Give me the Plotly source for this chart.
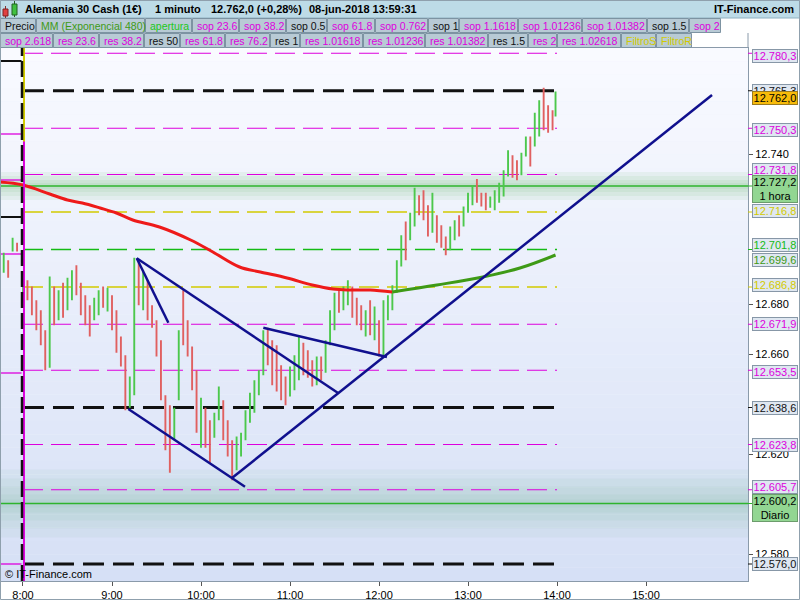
import plotly.graph_objects as go
import pandas as pd

DAY = "2018-06-08 "

# ---------------- data ----------------
pre_time = ["07:47", "07:50", "07:53", "07:56"]
pre_open = [12693, 12697, 12702, 12704]
pre_high = [12700.5, 12697.5, 12706.5, 12704.5]
pre_low = [12692.5, 12690.5, 12701, 12701]
pre_close = [12699, 12691, 12706, 12702]

# session bars, 3-minute sampling from 08:00, last bar 13:59
bar_open = [12684.5, 12688, 12685, 12680, 12676, 12668, 12656, 12685, 12675, 12687,
            12679, 12683, 12694, 12687, 12682, 12678, 12675, 12677, 12686, 12678,
            12682, 12676, 12665, 12658, 12640, 12645, 12696, 12679, 12688, 12678,
            12672, 12664, 12642, 12638, 12627, 12643, 12684, 12672, 12661, 12652,
            12624, 12637, 12632, 12628, 12635, 12640, 12632, 12624, 12615, 12620,
            12627, 12634, 12638, 12645, 12653, 12669, 12664, 12662, 12654, 12650,
            12644, 12647, 12651, 12663, 12660, 12656, 12649, 12658, 12654, 12665,
            12671, 12684, 12679, 12681, 12686, 12681, 12678, 12668, 12680, 12667,
            12672, 12661, 12675, 12679, 12686, 12696, 12711, 12707, 12712, 12722,
            12724, 12718, 12710, 12714, 12710, 12706, 12703, 12707, 12714, 12712,
            12717, 12720, 12729, 12723, 12723, 12719, 12719, 12722, 12724, 12732,
            12738, 12736, 12733, 12740, 12746, 12744, 12748, 12765, 12758, 12756,
            12756]
bar_high = [12691.5, 12689.5, 12687, 12681.5, 12677.5, 12669.5, 12691, 12687, 12685.5, 12688.5,
            12690.5, 12693.5, 12695.5, 12688.5, 12683.5, 12679.5, 12682.5, 12685.5, 12687, 12686.5,
            12683.5, 12677.5, 12667, 12659.5, 12651, 12698.5, 12697.5, 12693.5, 12689.5, 12679.5,
            12673.5, 12665.5, 12643.5, 12639.5, 12638.5, 12669.5, 12685.5, 12673.5, 12663, 12653.5,
            12642.5, 12638.5, 12633.5, 12636.5, 12647, 12641.5, 12633.5, 12625.5, 12627, 12628.5,
            12637.5, 12644.5, 12649.5, 12653.5, 12669.5, 12670.5, 12665.5, 12663.5, 12655.5, 12651,
            12655, 12659.5, 12667, 12664.5, 12661.5, 12657.5, 12659, 12659, 12665.5, 12677.5,
            12684.5, 12685.5, 12687, 12689.5, 12687, 12682.5, 12679.5, 12677.5, 12681.5, 12679,
            12673.5, 12681.5, 12683.5, 12687.5, 12697.5, 12707.5, 12713, 12716.5, 12726.5, 12723.5,
            12725.5, 12719.5, 12724.5, 12715.5, 12711.5, 12707, 12711, 12713.5, 12715.5, 12719,
            12724.5, 12727.5, 12730, 12724.5, 12724.5, 12723, 12725.5, 12728.5, 12733.5, 12741.5,
            12739.5, 12737.5, 12740.5, 12747, 12747, 12756.5, 12761.5, 12766.5, 12759.5, 12757.5,
            12765]
bar_low = [12683.5, 12681.5, 12675.5, 12669.5, 12663.5, 12653.5, 12654.5, 12671.5, 12673.5, 12674.5,
           12677.5, 12681.5, 12683.5, 12675.5, 12671.5, 12667, 12673.5, 12675.5, 12678.5, 12677,
           12669.5, 12660.5, 12655, 12637.5, 12638.5, 12643.5, 12679.5, 12677.5, 12673.5, 12670.5,
           12659, 12641.5, 12621.5, 12612.5, 12625.5, 12641.5, 12663.5, 12659, 12645.5, 12628.5,
           12622.5, 12622.5, 12616.5, 12626.5, 12633.5, 12625.5, 12619, 12609.5, 12613.5, 12619,
           12625.5, 12632.5, 12636.5, 12643.5, 12651.5, 12655.5, 12647.5, 12645, 12641.5, 12639.5,
           12643, 12645.5, 12649.5, 12651.5, 12650.5, 12647, 12647.5, 12649.5, 12652.5, 12663.5,
           12669.5, 12676.5, 12677.5, 12679.5, 12674.5, 12671.5, 12669.5, 12667, 12667.5, 12665.5,
           12659, 12659, 12673.5, 12677.5, 12684.5, 12695, 12697.5, 12705.5, 12711, 12715.5,
           12713.5, 12707, 12708.5, 12704.5, 12702.5, 12699.5, 12701.5, 12705.5, 12707, 12711,
           12716.5, 12719.5, 12720.5, 12719, 12717.5, 12718.5, 12717.5, 12720.5, 12723, 12731,
           12730.5, 12729.5, 12731.5, 12739, 12735, 12743, 12747, 12749.5, 12748.5, 12749.5,
           12755]
bar_close = [12690, 12683, 12677, 12671, 12665, 12655, 12688, 12673, 12684, 12676,
             12689, 12692, 12685, 12677, 12673, 12668, 12681, 12684, 12680, 12685,
             12671, 12662, 12656, 12639, 12649, 12696, 12681, 12692, 12675, 12672,
             12660, 12643, 12623, 12614, 12637, 12668, 12665, 12660, 12647, 12630,
             12641, 12624, 12618, 12635, 12645, 12627, 12620, 12611, 12625, 12627,
             12636, 12643, 12648, 12652, 12668, 12657, 12649, 12646, 12643, 12641,
             12654, 12658, 12665, 12653, 12652, 12648, 12657, 12651, 12664, 12676,
             12683, 12678, 12686, 12688, 12676, 12673, 12671, 12676, 12669, 12677,
             12660, 12680, 12682, 12686, 12696, 12706, 12699, 12715, 12725, 12717,
             12715, 12708, 12723, 12706, 12704, 12701, 12710, 12712, 12708, 12718,
             12723, 12726, 12722, 12720, 12719, 12722, 12724, 12727, 12732, 12740,
             12732, 12731, 12739, 12746, 12736, 12755, 12760, 12751, 12750, 12751,
             12762]
bar_time = [t.strftime("%H:%M") for t in pd.date_range(DAY + "08:00", DAY + "13:57", freq="3min")] + ["13:59"]

# EMA 480 (exponential moving average)
ema_time = ["07:44:30", "08:00", "08:18", "08:30", "08:40", "08:52", "09:03", "09:14", "09:32",
            "09:53", "10:08", "10:26", "10:40", "10:58", "11:15", "11:29", "11:40", "11:54",
            "12:09", "12:39", "13:10", "13:35", "13:59"]
ema_value = [12728.8, 12727.6, 12724.0, 12721.6, 12720.4, 12718.4, 12716.4, 12713.6, 12710.8,
             12705.6, 12700.8, 12694.8, 12692.8, 12690.4, 12687.6, 12686.0, 12685.6, 12685.6,
             12684.8, 12687.6, 12690.8, 12694.4, 12699.6]
ema_cross = "12:09"

# hand-drawn trendlines
trend_t0 = ["09:16:40", "09:16:40", "09:11:00", "10:20:40", "10:42:00"]
trend_p0 = [12698.3, 12698.3, 12638.0, 12610.3, 12670.5]
trend_t1 = ["09:38:00", "11:32:40", "10:29:40", "15:44:30", "12:05:20"]
trend_p1 = [12672.5, 12644.3, 12606.9, 12763.6, 12658.8]

# support / resistance levels
level_price = [12780.3, 12765.3, 12750.3, 12731.8, 12716.8, 12701.8, 12686.8,
               12671.9, 12653.5, 12638.6, 12623.8, 12605.7, 12576.0]
level_kind = ["mag", "blk", "mag", "mag", "yel", "grn", "yel",
              "mag", "mag", "blk", "mag", "mag", "blk"]
level_text = ["12.780,3", "12.765,3", "12.750,3", "12.731,8", "12.716,8", "12.701,8", "12.686,8",
              "12.671,9", "12.653,5", "12.638,6", "12.623,8", "12.605,7", "12.576,0"]
level_shift = [-3, 0, -2, 5, 1.5, 4.5, 2, 0, -2, 0, 0, 2.5, 0]

pivot_price = [12727.2, 12600.2]
pivot_text = ["12.727,2<br>1 hora", "12.600,2<br>Diario"]
pivot_shift = [-3, -4]

last_price = 12762.0
last_text = "12.762,0"
ema_last_text = "12.699,6"

prev_price = [12777.2, 12714.8, 12748.0, 12729.6, 12700.0, 12652.4, 12576.0]
prev_kind = ["blk", "blk", "mag", "mag", "mag", "mag", "mag"]

y_ticks = [12580, 12620, 12660, 12680, 12740]
x_ticks = ["08:00", "09:00", "10:00", "11:00", "12:00", "13:00", "14:00", "15:00"]
x_ticktext = ["8:00", "9:00", "10:00", "11:00", "12:00", "13:00", "14:00", "15:00"]

title_parts = ["Alemania 30 Cash (1€)", "1 minuto", "12.762,0 (+0,28%)", "08-jun-2018 13:59:31"]
brand = "IT-Finance.com"

MAG = "#dd00dd"
YEL = "#d2ca00"
GRN = "#14bb14"
BLK = "#111111"
EMA_RED = "#ee1a1a"
EMA_GRN = "#3e9a16"
UP = "#4cc84c"
DOWN = "#e06060"
NAVY = "#10108e"
kind_color = {"mag": MAG, "blk": BLK, "yel": YEL, "grn": GRN}

legend_row1 = [("Precio", BLK, 36), ("MM (Exponencial 480)", EMA_GRN, 109), ("apertura", "#20c820", 47),
               ("sop 23.6", MAG, 47), ("sop 38.2", MAG, 47), ("sop 0.5", BLK, 41), ("sop 61.8", MAG, 48),
               ("sop 0.762", MAG, 53), ("sop 1", BLK, 31), ("sop 1.1618", MAG, 59), ("sop 1.01236", MAG, 64),
               ("sop 1.01382", MAG, 65), ("sop 1.5", BLK, 42), ("sop 2", MAG, 32)]
legend_row2 = [("sop 2.618", MAG, 53), ("res 23.6", MAG, 46), ("res 38.2", MAG, 45), ("res 50", BLK, 36),
               ("res 61.8", MAG, 45), ("res 76.2", MAG, 45), ("res 1", BLK, 30), ("res 1.01618", MAG, 63),
               ("res 1.01236", MAG, 62), ("res 1.01382", MAG, 63), ("res 1.5", BLK, 40), ("res 2", MAG, 29),
               ("res 1.02618", MAG, 64), ("FiltroS", YEL, 35), ("FiltroR", YEL, 36)]

FONT = "Liberation Sans, Arial, sans-serif"

# ---------------- geometry helpers (pixels -> paper) ----------------
W, H = 800, 600
ML, MR, MT, MB = 0, 52, 48, 19
PW, PH = W - ML - MR, H - MT - MB
Y_RANGE = [12569.2, 12782.4]
X_RANGE = [DAY + "07:44:30", DAY + "16:08:45"]
PPX = (Y_RANGE[1] - Y_RANGE[0]) / PH  # price per pixel


def px(x):
    return (x - ML) / PW


def py(y):
    return (H - MB - y) / PH


def T(s):
    return DAY + s


fig = go.Figure()
shapes = []
annots = []

# plot background gradient
TOP_C, BOT_C = (249, 250, 255), (214, 224, 246)
N = 40
for i in range(N):
    f = i / (N - 1)
    c = tuple(round(a + (b - a) * f) for a, b in zip(TOP_C, BOT_C))
    ya = MT + PH * i / N
    yb = MT + PH * (i + 1) / N
    shapes.append(dict(type="rect", xref="paper", yref="paper", x0=0, x1=1, y0=py(yb), y1=py(ya),
                       fillcolor="rgb(%d,%d,%d)" % c, line=dict(width=0), layer="below"))

# glow bands around pivot lines
for p, widths, col in [(pivot_price[0], [14, 10, 6, 3], "rgba(70,175,70,0.075)"),
                       (pivot_price[1], [34, 25, 17, 9, 4], "rgba(70,170,110,0.055)")]:
    for w in widths:
        shapes.append(dict(type="rect", xref="paper", yref="y", x0=0, x1=1, y0=p - w * PPX, y1=p + w * PPX,
                           fillcolor=col, line=dict(width=0), layer="below"))

# dashed level lines
for p, k in zip(level_price, level_kind):
    if k == "blk":
        ln = dict(color=BLK, width=3.2, dash="21px,9px")
    elif k == "mag":
        ln = dict(color=MAG, width=1.2, dash="20px,8px")
    elif k == "yel":
        ln = dict(color=YEL, width=1.4, dash="20px,8px")
    else:
        ln = dict(color=GRN, width=1.4, dash="20px,8px")
    shapes.append(dict(type="line", xref="x", yref="y", x0=T("08:00"), x1=T("14:00"), y0=p, y1=p,
                       line=ln, layer="below"))

# pivot solid lines
for p in pivot_price:
    shapes.append(dict(type="line", xref="paper", yref="y", x0=0, x1=1, y0=p, y1=p,
                       line=dict(color="#2eb42e", width=1.3), layer="below"))

# previous session short levels
for p, k in zip(prev_price, prev_kind):
    shapes.append(dict(type="line", xref="x", yref="y", x0=X_RANGE[0], x1=T("07:59"), y0=p, y1=p,
                       line=dict(color=kind_color[k], width=2 if k == "blk" else 1.3), layer="below"))

# session start vertical lines
shapes.append(dict(type="line", xref="x", yref="paper", x0=T("08:00:40"), x1=T("08:00:40"), y0=0, y1=1,
                   line=dict(color=MAG, width=2)))
shapes.append(dict(type="line", xref="x", yref="y", x0=T("08:00:40"), x1=T("08:00:40"), y0=12745, y1=Y_RANGE[1],
                   line=dict(color=YEL, width=2)))
shapes.append(dict(type="line", xref="x", yref="paper", x0=T("07:59:20"), x1=T("07:59:20"), y0=0, y1=1,
                   line=dict(color=BLK, width=2.5, dash="16px,5px")))

# level ticks at axis
for p, k in zip(level_price, level_kind):
    shapes.append(dict(type="line", xref="paper", yref="y", x0=1, x1=px(752), y0=p, y1=p,
                       line=dict(color=kind_color[k], width=1)))
for p in pivot_price:
    shapes.append(dict(type="line", xref="paper", yref="y", x0=1, x1=px(752), y0=p, y1=p,
                       line=dict(color="#2eb42e", width=1)))

# ---------------- traces ----------------
fig.add_trace(go.Ohlc(
    x=[T(t) for t in pre_time + bar_time],
    open=pre_open + bar_open, high=pre_high + bar_high,
    low=pre_low + bar_low, close=pre_close + bar_close,
    increasing=dict(line=dict(color=UP, width=1.9)),
    decreasing=dict(line=dict(color=DOWN, width=1.9)),
    tickwidth=0, hoverinfo="skip", showlegend=False))

red_t = [T(t) for t in ema_time if t <= ema_cross]
red_v = [v for t, v in zip(ema_time, ema_value) if t <= ema_cross]
grn_t = [T(t) for t in ema_time if t >= ema_cross]
grn_v = [v for t, v in zip(ema_time, ema_value) if t >= ema_cross]
fig.add_trace(go.Scatter(x=red_t, y=red_v, mode="lines", line=dict(color=EMA_RED, width=3, shape="spline"),
                         hoverinfo="skip", showlegend=False))
fig.add_trace(go.Scatter(x=grn_t, y=grn_v, mode="lines", line=dict(color=EMA_GRN, width=3, shape="spline"),
                         hoverinfo="skip", showlegend=False))

for a, pa, b, pb in zip(trend_t0, trend_p0, trend_t1, trend_p1):
    fig.add_trace(go.Scatter(x=[T(a), T(b)], y=[pa, pb], mode="lines", line=dict(color=NAVY, width=2.5),
                             hoverinfo="skip", showlegend=False))

# ---------------- axis label boxes ----------------
LBL_BG = "#dfe7f1"
LBL_BD = "#8797a7"


def box(p, text, color, bg, shift, h=12, bd=LBL_BD):
    annots.append(dict(xref="paper", yref="y", x=px(752), y=p, xanchor="left", yanchor="middle",
                       yshift=shift, text=text, showarrow=False, width=44, height=h, borderpad=0,
                       borderwidth=1, bordercolor=bd, bgcolor=bg, align="center",
                       font=dict(family=FONT, size=11, color=color)))


for i in [0, 1]:
    box(level_price[i], level_text[i], kind_color[level_kind[i]], LBL_BG, level_shift[i])
box(last_price, last_text, "black", "#f7bb0a", 1, bd="#9a7a20")
for i in range(2, 4):
    box(level_price[i], level_text[i], kind_color[level_kind[i]], LBL_BG, level_shift[i])
box(pivot_price[0], pivot_text[0], "black", "#92d692", pivot_shift[0], h=26, bd="#6c9c6c")
for i in range(4, 6):
    box(level_price[i], level_text[i], kind_color[level_kind[i]], LBL_BG, level_shift[i])
box(ema_value[-1], ema_last_text, EMA_GRN, LBL_BG, -4.5)
for i in range(6, 12):
    box(level_price[i], level_text[i], kind_color[level_kind[i]], LBL_BG, level_shift[i])
box(pivot_price[1], pivot_text[1], "black", "#92d692", pivot_shift[1], h=26, bd="#6c9c6c")
box(level_price[12], level_text[12], BLK, LBL_BG, level_shift[12])

# ---------------- header: title bar + legend buttons ----------------
shapes.append(dict(type="rect", xref="paper", yref="paper", x0=px(0), x1=px(800), y0=py(18), y1=py(0),
                   fillcolor="#bddbe7", line=dict(color="#8fb0c0", width=1)))
title_x = [23, 153, 209, 307]
for s, xx in zip(title_parts, title_x):
    annots.append(dict(xref="paper", yref="paper", x=px(xx), y=py(9), xanchor="left", yanchor="middle",
                       text="<b>%s</b>" % s, showarrow=False, font=dict(family=FONT, size=11, color="black")))
annots.append(dict(xref="paper", yref="paper", x=px(796), y=py(9), xanchor="right", yanchor="middle",
                   text="<b>%s</b>" % brand, showarrow=False, font=dict(family=FONT, size=11, color="black")))
# icon candles
shapes.append(dict(type="line", xref="paper", yref="paper", x0=px(5.5), x1=px(5.5), y0=py(18), y1=py(6),
                   line=dict(color="#803030", width=1)))
shapes.append(dict(type="rect", xref="paper", yref="paper", x0=px(3), x1=px(8), y0=py(16), y1=py(9),
                   fillcolor="#e04040", line=dict(color="#802020", width=1)))
shapes.append(dict(type="line", xref="paper", yref="paper", x0=px(14.5), x1=px(14.5), y0=py(17), y1=py(1),
                   line=dict(color="#206020", width=1)))
shapes.append(dict(type="rect", xref="paper", yref="paper", x0=px(12), x1=px(17), y0=py(15), y1=py(4),
                   fillcolor="#40c040", line=dict(color="#206020", width=1)))

for row, (ytop, ybot) in [(legend_row1, (18, 33)), (legend_row2, (33, 48))]:
    x0 = 0
    for label, col, w in row:
        shapes.append(dict(type="rect", xref="paper", yref="paper", x0=px(x0 + 0.5), x1=px(x0 + w - 0.5),
                           y0=py(ybot - 0.5), y1=py(ytop + 0.5), fillcolor="#b8cad5",
                           line=dict(color="#7d93a2", width=1)))
        annots.append(dict(xref="paper", yref="paper", x=px(x0 + 3), y=py((ytop + ybot) / 2 + 0.5),
                           xanchor="left", yanchor="middle", text=label, showarrow=False,
                           font=dict(family=FONT, size=10.5, color=col)))
        x0 += w

# frame extension at header
shapes.append(dict(type="line", xref="paper", yref="paper", x0=1, x1=1, y0=1, y1=py(33),
                   line=dict(color="#8a9aaa", width=1)))
# outer border
shapes.append(dict(type="rect", xref="paper", yref="paper", x0=px(0.5), x1=px(799.5), y0=py(599.5), y1=py(0.5),
                   line=dict(color="#8fa0ad", width=1)))

annots.append(dict(xref="paper", yref="paper", x=px(3), y=py(574), xanchor="left", yanchor="middle",
                   text="© IT-Finance.com", showarrow=False, font=dict(family=FONT, size=11, color="black")))

fig.update_layout(
    width=W, height=H, margin=dict(l=ML, r=MR, t=MT, b=MB, pad=0),
    paper_bgcolor="white", plot_bgcolor="#eef2fc", separators=",.", showlegend=False,
    font=dict(family=FONT, size=11, color="black"),
    shapes=shapes, annotations=annots,
    xaxis=dict(type="date", range=X_RANGE, tickmode="array", tickvals=[T(t) for t in x_ticks],
               ticktext=x_ticktext, ticks="outside", ticklen=4, tickcolor="#555", showgrid=False,
               zeroline=False, showline=True, mirror=True, linecolor="#8a9aaa",
               rangeslider=dict(visible=False), fixedrange=True, tickfont=dict(size=11)),
    yaxis=dict(side="right", range=Y_RANGE, tickmode="array", tickvals=y_ticks, tickformat=",.0f",
               ticks="outside", ticklen=4, tickcolor="#555", showgrid=False, zeroline=False,
               showline=True, mirror=True, linecolor="#8a9aaa", fixedrange=True, tickfont=dict(size=11)),
)

fig.write_html("out.html", config={"displayModeBar": False},
               post_script="document.body.style.margin='0';document.body.style.overflow='hidden';")
